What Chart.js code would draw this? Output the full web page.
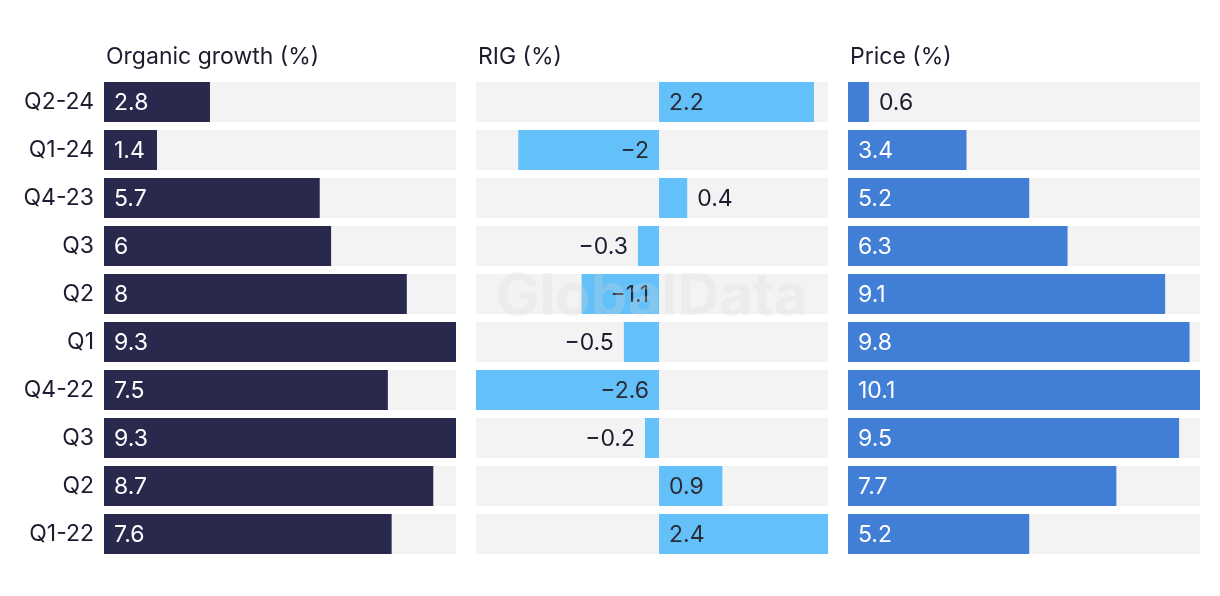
<!DOCTYPE html>
<html>
<head>
<meta charset="utf-8">
<script src="https://cdn.jsdelivr.net/npm/chart.js@4/dist/chart.umd.min.js"></script>
<style>
  html, body { margin: 0; padding: 0; background: #fff; }
  .wrap { position: relative; width: 1220px; height: 596px; }
  .wrap canvas { position: absolute; left: 0; top: 0; }
</style>
</head>
<body>
<div class="wrap">
  <canvas id="organicChart" width="1220" height="596"></canvas>
  <canvas id="rigChart" width="1220" height="596"></canvas>
  <canvas id="priceChart" width="1220" height="596"></canvas>
</div>
<script>
const categories = ["Q2-24", "Q1-24", "Q4-23", "Q3", "Q2", "Q1", "Q4-22", "Q3", "Q2", "Q1-22"];
const organicGrowth = [2.8, 1.4, 5.7, 6, 8, 9.3, 7.5, 9.3, 8.7, 7.6];
const rig = [2.2, -2, 0.4, -0.3, -1.1, -0.5, -2.6, -0.2, 0.9, 2.4];
const price = [0.6, 3.4, 5.2, 6.3, 9.1, 9.8, 10.1, 9.5, 7.7, 5.2];

const FONT = "Inter, 'Liberation Sans', Arial, sans-serif";
const FONT_SIZE = 23;
const TEXT_DARK = "#1c1c2e";
const TRACK = "#f3f3f3";

const fmt = (v) => (v < 0 ? "\u2212" + Math.abs(v) : String(v));

const panelLabels = {
  id: "panelLabels",
  afterDatasetsDraw(chart, args, opts) {
    const ctx = chart.ctx;
    const area = chart.chartArea;
    ctx.save();
    ctx.font = `${FONT_SIZE}px ${FONT}`;
    ctx.textBaseline = "middle";
    ctx.fillStyle = TEXT_DARK;
    ctx.textAlign = "left";
    ctx.fillText(opts.title, area.left + 2, 57);

    const meta = chart.getDatasetMeta(1);
    const values = chart.data.datasets[1].data;
    const pad = 10;
    meta.data.forEach((bar, i) => {
      const v = values[i];
      const text = fmt(v);
      const tw = ctx.measureText(text).width;
      const width = Math.abs(bar.x - bar.base);
      const inside = tw + pad * 2 <= width;
      let x;
      if (v >= 0) {
        ctx.textAlign = "left";
        x = inside ? bar.base + pad : bar.x + pad;
      } else {
        ctx.textAlign = "right";
        x = inside ? bar.base - pad : bar.x - pad;
      }
      ctx.fillStyle = inside ? opts.insideColor : opts.outsideColor;
      ctx.fillText(text, x, bar.y + 1);
    });

    if (opts.watermark) {
      ctx.font = `bold 58px ${FONT}`;
      ctx.textAlign = "center";
      ctx.fillStyle = "rgba(215, 215, 215, 0.25)";
      ctx.fillText("GlobalData", (area.left + area.right) / 2, 298);
    }
    ctx.restore();
  },
};

function makePanel(id, values, color, title, padLeft, padRight, showCats, insideColor, watermark) {
  const min = Math.min(0, ...values);
  const max = Math.max(...values);
  return new Chart(document.getElementById(id), {
    type: "bar",
    data: {
      labels: categories,
      datasets: [
        {
          data: values.map(() => [min, max]),
          backgroundColor: TRACK,
          barPercentage: 40 / 48,
          categoryPercentage: 1,
          grouped: false,
          order: 2,
        },
        {
          data: values,
          backgroundColor: color,
          barPercentage: 40 / 48,
          categoryPercentage: 1,
          grouped: false,
          order: 1,
        },
      ],
    },
    options: {
      indexAxis: "y",
      responsive: false,
      animation: false,
      events: [],
      layout: { padding: { left: padLeft, right: padRight, top: 78, bottom: 38 } },
      scales: {
        x: { display: false, min, max },
        y: {
          display: showCats,
          grid: { display: false, drawTicks: false },
          border: { display: false },
          ticks: { font: { size: FONT_SIZE, family: FONT }, color: TEXT_DARK, padding: 10 },
          afterFit: (axis) => {
            axis.width = showCats ? 104 : 0;
          },
        },
      },
      plugins: {
        legend: { display: false },
        tooltip: { enabled: false },
        panelLabels: { title, insideColor, outsideColor: TEXT_DARK, watermark },
      },
    },
    plugins: [panelLabels],
  });
}

makePanel("organicChart", organicGrowth, "#29294d", "Organic growth (%)", 0, 1220 - 456, true, "#ffffff", false);
makePanel("rigChart", rig, "#63c0f8", "RIG (%)", 476, 1220 - 828, false, "#2b2b35", true);
makePanel("priceChart", price, "#417ed6", "Price (%)", 848, 20, false, "#ffffff", false);
</script>
</body>
</html>
